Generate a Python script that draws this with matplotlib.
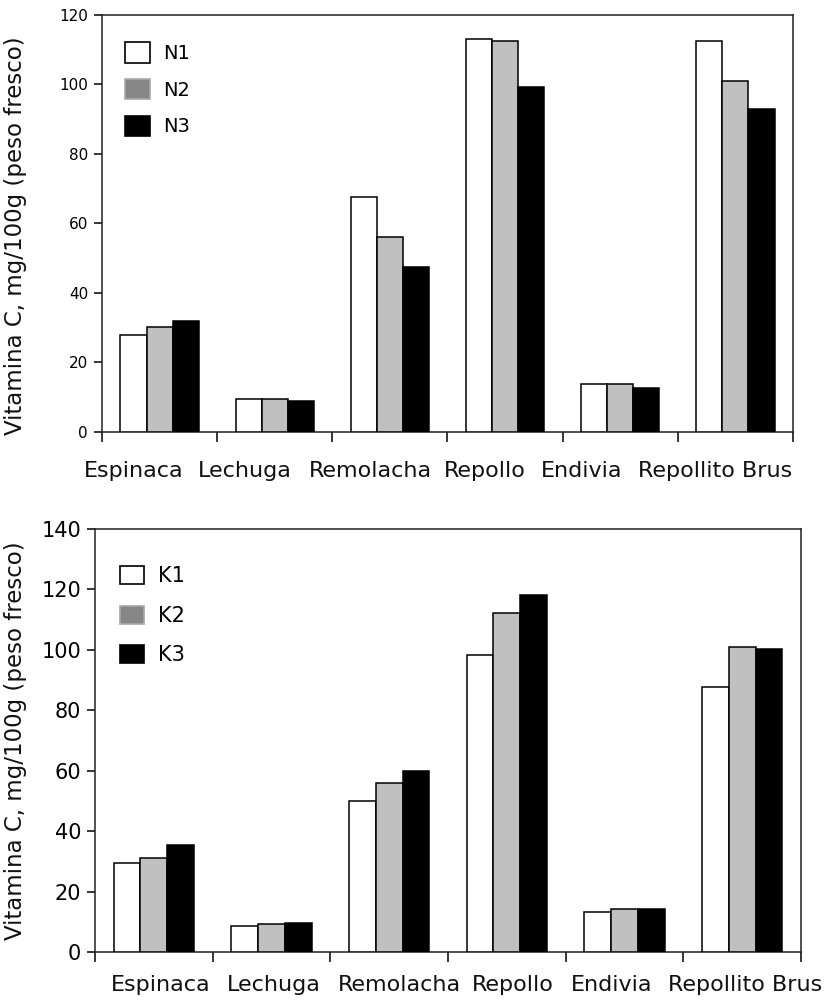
import matplotlib
matplotlib.use("Agg")
import matplotlib.pyplot as plt
from matplotlib.patches import Patch
import numpy as np

categories = ["Espinaca", "Lechuga", "Remolacha", "Repollo", "Endivia", "Repollito Brus"]

n_labels = ["N1", "N2", "N3"]
n1 = [27.8, 9.4, 67.5, 113.0, 13.8, 112.5]
n2 = [30.1, 9.4, 56.0, 112.5, 13.8, 101.0]
n3 = [31.9, 8.8, 47.5, 99.4, 12.8, 93.0]

k_labels = ["K1", "K2", "K3"]
k1 = [29.3, 8.7, 50.0, 98.2, 13.3, 87.6]
k2 = [31.2, 9.3, 55.8, 112.2, 14.1, 101.0]
k3 = [35.4, 9.5, 59.8, 118.2, 14.1, 100.4]

top_yticks = [0, 20, 40, 60, 80, 100, 120]
bot_yticks = [0, 20, 40, 60, 80, 100, 120, 140]

ylabel = "Vitamina C, mg/100g (peso fresco)"

bar_faces = ["white", "#c0c0c0", "black"]
legend_faces = ["white", "#868686", "black"]
legend_edges = ["black", "#a8a8a8", "black"]

# horizontal shift (pixels) of each category label, as laid out in the original
top_label_shift = [-26, -30, -19, -20, -39, -20]
bot_label_shift = [7, 2, 10, 6, -13, 3]

plt.rcParams['font.family'] = ['DejaVu Sans']

fig = plt.figure(figsize=(8.25, 10), dpi=100)
ax1 = fig.add_axes([102/825, 1-432/1000, 691/825, 417/1000])
ax2 = fig.add_axes([95/825, 1-952/1000, 706/825, 423/1000])

def draw(ax, series, labels, ymax, yticks, tick_fs, xlab_pad, shifts, leg_fs, leg_anchor, leg_spacing, hl, hh, ylab_xy):
    x = np.arange(len(categories))
    w = 0.227
    for i, vals in enumerate(series):
        ax.bar(x + (i - 1) * w, vals, width=w, color=bar_faces[i],
               edgecolor="black", linewidth=1.1, zorder=3)
    ax.set_xlim(-0.5, len(categories) - 0.5)
    ax.set_ylim(0, ymax)
    ax.set_yticks(yticks)
    ax.set_yticklabels([str(t) for t in yticks], fontsize=tick_fs)
    ax.set_xticks(np.arange(len(categories) + 1) - 0.5)
    ax.set_xticklabels([])
    for xi, cat, dx in zip(x, categories, shifts):
        ax.annotate(cat, xy=(xi, 0), xycoords=("data", "axes fraction"),
                    xytext=(dx * 0.72, -xlab_pad), textcoords="offset points",
                    ha="center", va="top", fontsize=16, color="#111111",
                    annotation_clip=False)
    ax.tick_params(axis="x", which="major", direction="out", length=7, width=1.1)
    ax.tick_params(axis="y", direction="out", length=6, width=1.1, pad=4)
    for s in ax.spines.values():
        s.set_linewidth(1.1)
        s.set_color("#222222")
    ax.set_ylabel(ylabel, fontsize=16.5, color="#111111")
    ax.yaxis.set_label_coords(*ylab_xy)
    handles = [Patch(facecolor=legend_faces[i], edgecolor=legend_edges[i], linewidth=1.2)
               for i in range(3)]
    ax.legend(handles, labels, loc="upper left", bbox_to_anchor=leg_anchor,
              frameon=False, fontsize=leg_fs, borderpad=0, borderaxespad=0,
              handlelength=hl, handleheight=hh, handletextpad=0.7,
              labelspacing=leg_spacing)

draw(ax1, [n1, n2, n3], n_labels, 120, top_yticks, 11, 21, top_label_shift, 14,
     (0.034, 0.935), 0.82, 1.24, 1.25, (-0.109, 0.47))
draw(ax2, [k1, k2, k3], k_labels, 140, bot_yticks, 15, 16.5, bot_label_shift, 15,
     (0.035, 0.912), 0.92, 1.15, 0.95, (-0.096, 0.50))

fig.savefig("out.png", dpi=100, facecolor="white")
